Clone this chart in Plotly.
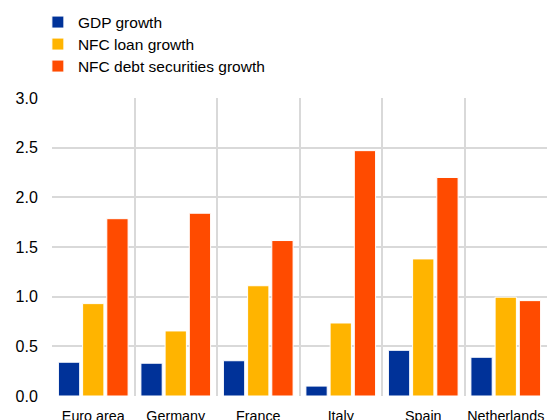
import plotly.graph_objects as go

categories = ["Euro area", "Germany", "France", "Italy", "Spain", "Netherlands"]
gdp_growth = [0.34, 0.33, 0.355, 0.10, 0.46, 0.39]
nfc_loan_growth = [0.93, 0.655, 1.11, 0.735, 1.38, 0.995]
nfc_debt_sec_growth = [1.785, 1.84, 1.565, 2.47, 2.20, 0.96]
y_ticks = [0.0, 0.5, 1.0, 1.5, 2.0, 2.5, 3.0]

series = [
    ("GDP growth", gdp_growth, "#003299"),
    ("NFC loan growth", nfc_loan_growth, "#FFB400"),
    ("NFC debt securities growth", nfc_debt_sec_growth, "#FF4B00"),
]
legend_ids = ["legend", "legend2", "legend3"]
legend_rows_px = [22.5, 44.5, 66.5]

fig = go.Figure()
for (name, vals, col), lid in zip(series, legend_ids):
    fig.add_trace(go.Bar(
        x=categories, y=vals, name=name, legend=lid,
        marker=dict(color=col, line=dict(color="white", width=1)),
    ))

H = 420
legend_common = dict(
    xref="container", yref="container", x=0.069,
    xanchor="left", yanchor="middle",
    font=dict(size=15.5), bgcolor="rgba(0,0,0,0)", itemwidth=30,
)
legends = {
    lid: dict(legend_common, y=1 - ypx / H)
    for lid, ypx in zip(legend_ids, legend_rows_px)
}

grid = "#d9d9d9"
fig.update_layout(
    width=549, height=H,
    margin=dict(l=52, r=2, t=98, b=24, autoexpand=False),
    paper_bgcolor="white", plot_bgcolor="white",
    barmode="group", bargap=0.12, bargroupgap=0.12,
    font=dict(family="Liberation Sans, Arial, sans-serif", color="#000000", size=14),
    showlegend=True,
    xaxis=dict(
        type="category", tickson="boundaries", showgrid=True,
        gridcolor=grid, gridwidth=1.5, showline=False, zeroline=False,
        ticks="", ticklabelstandoff=10,
        tickfont=dict(size=14.3), tickangle=0, fixedrange=True,
    ),
    yaxis=dict(
        range=[0, 3], tickvals=y_ticks, tickformat=".1f",
        showgrid=True, gridcolor=grid, gridwidth=1.5,
        zeroline=False, showline=False,
        ticks="outside", ticklen=10, tickcolor="rgba(0,0,0,0)",
        tickfont=dict(size=16),
    ),
    **legends,
)

fig.write_html(
    "out.html",
    config={"displayModeBar": False},
    post_script="document.body.style.margin='0';document.body.style.overflow='hidden';",
)
